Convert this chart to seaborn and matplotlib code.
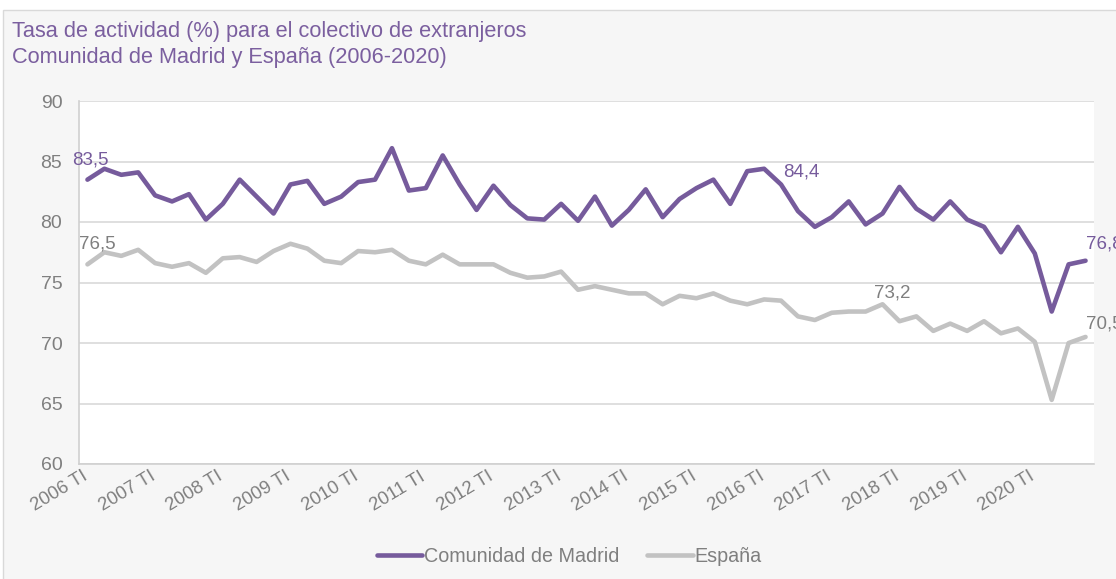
import matplotlib
matplotlib.use("Agg")
import matplotlib.pyplot as plt
import seaborn as sns
import pandas as pd
from matplotlib.patches import Rectangle

years = list(range(2006, 2021))
quarters = ["TI", "TII", "TIII", "TIV"]
periods = [f"{y} {q}" for y in years for q in quarters]

madrid = [83.5, 84.4, 83.9, 84.1, 82.2, 81.7, 82.3, 80.2, 81.5, 83.5,
          82.1, 80.7, 83.1, 83.4, 81.5, 82.1, 83.3, 83.5, 86.1, 82.6,
          82.8, 85.5, 83.1, 81.0, 83.0, 81.4, 80.3, 80.2, 81.5, 80.1,
          82.1, 79.7, 81.0, 82.7, 80.4, 81.9, 82.8, 83.5, 81.5, 84.2,
          84.4, 83.1, 80.9, 79.6, 80.4, 81.7, 79.8, 80.7, 82.9, 81.1,
          80.2, 81.7, 80.2, 79.6, 77.5, 79.6, 77.4, 72.6, 76.5, 76.8]
espana = [76.5, 77.5, 77.2, 77.7, 76.6, 76.3, 76.6, 75.8, 77.0, 77.1,
          76.7, 77.6, 78.2, 77.8, 76.8, 76.6, 77.6, 77.5, 77.7, 76.8,
          76.5, 77.3, 76.5, 76.5, 76.5, 75.8, 75.4, 75.5, 75.9, 74.4,
          74.7, 74.4, 74.1, 74.1, 73.2, 73.9, 73.7, 74.1, 73.5, 73.2,
          73.6, 73.5, 72.2, 71.9, 72.5, 72.6, 72.6, 73.2, 71.8, 72.2,
          71.0, 71.6, 71.0, 71.8, 70.8, 71.2, 70.1, 65.3, 70.0, 70.5]
series_names = ["Comunidad de Madrid", "España"]
yticks = [60, 65, 70, 75, 80, 85, 90]
xtick_labels = [f"{y} TI" for y in years]

# labelled points: (series, index, offset in points, alignment)
labels = [(0, 0, (2, 14), "center"), (0, 40, (14, -2), "left"), (0, 59, (0, 12), "left"),
          (1, 0, (7, 15), "center"), (1, 47, (7, 8), "center"), (1, 59, (0, 9.5), "left")]

purple = "#765b9c"
grey_line = "#c2c2c2"
txt_grey = "#7f7f7f"
title_purple = "#7b5f9f"

df = pd.DataFrame({
    "periodo": periods * 2,
    "valor": madrid + espana,
    "serie": [series_names[0]] * len(periods) + [series_names[1]] * len(periods),
})

sns.set_theme(style="white")
plt.rcParams["font.family"] = ["Liberation Sans", "DejaVu Sans"]

fig = plt.figure(figsize=(11.16, 5.79), dpi=100)
fig.patch.set_facecolor("white")
fig.patches.append(Rectangle((3 / 1116, -0.1), 1.2, (579 - 10) / 579 + 0.1,
                             transform=fig.transFigure, facecolor="#f6f6f6",
                             edgecolor="#d9d9d9", linewidth=1, zorder=-10))

ax = fig.add_axes([79 / 1116, (579 - 464) / 579, 1015 / 1116, 363 / 579])
ax.set_facecolor("white")

sns.lineplot(data=df, x="periodo", y="valor", hue="serie", sort=False,
             palette={series_names[0]: purple, series_names[1]: grey_line},
             linewidth=3.3, ax=ax, legend=True)

ax.set_xlim(-0.5, len(periods) - 0.5)
ax.set_ylim(60, 90)
ax.set_yticks(yticks)
ax.set_yticklabels([str(v) for v in yticks])
# year labels anchored slightly left of the first-quarter category
ax.set_xticks([periods.index(l) - 0.35 for l in xtick_labels])
ax.set_xticklabels(xtick_labels, rotation=31, ha="right", va="top",
                   rotation_mode="anchor")
ax.tick_params(axis="x", length=0, pad=3, labelsize=13.3, labelcolor=txt_grey)
ax.tick_params(axis="y", length=0, pad=12, labelsize=14, labelcolor=txt_grey)
ax.grid(axis="y", color="#d9d9d9", linewidth=1.2)
ax.grid(axis="x", visible=False)
for s in ["top", "right"]:
    ax.spines[s].set_visible(False)
for s in ["left", "bottom"]:
    ax.spines[s].set_color("#d0d0d0")
    ax.spines[s].set_linewidth(1.2)
ax.set_xlabel("")
ax.set_ylabel("")

vals = [madrid, espana]
cols = [purple, txt_grey]
for si, idx, off, ha in labels:
    v = vals[si][idx]
    ax.annotate(f"{v:.1f}".replace(".", ","), xy=(idx, v), xytext=off,
                textcoords="offset points", ha=ha, va="center",
                fontsize=13.5, color=cols[si], annotation_clip=False)

leg = ax.legend(loc="center", bbox_to_anchor=((569.5 - 79) / 1015, -(556 - 464) / 363),
                bbox_transform=ax.transAxes, ncol=2, frameon=False,
                fontsize=14.2, handlelength=2.3, handletextpad=0.1,
                columnspacing=1.4)
for t in leg.get_texts():
    t.set_color(txt_grey)
for h in leg.get_lines():
    h.set_linewidth(3.3)
    h.set_solid_capstyle("round")

fig.text(12 / 1116, 1 - 32 / 579, "Tasa de actividad (%) para el colectivo de extranjeros",
         fontsize=15.7, color=title_purple, ha="left", va="center")
fig.text(12 / 1116, 1 - 58 / 579, "Comunidad de Madrid y España (2006-2020)",
         fontsize=15.7, color=title_purple, ha="left", va="center")

fig.savefig("out.png", dpi=100, facecolor=fig.get_facecolor())
